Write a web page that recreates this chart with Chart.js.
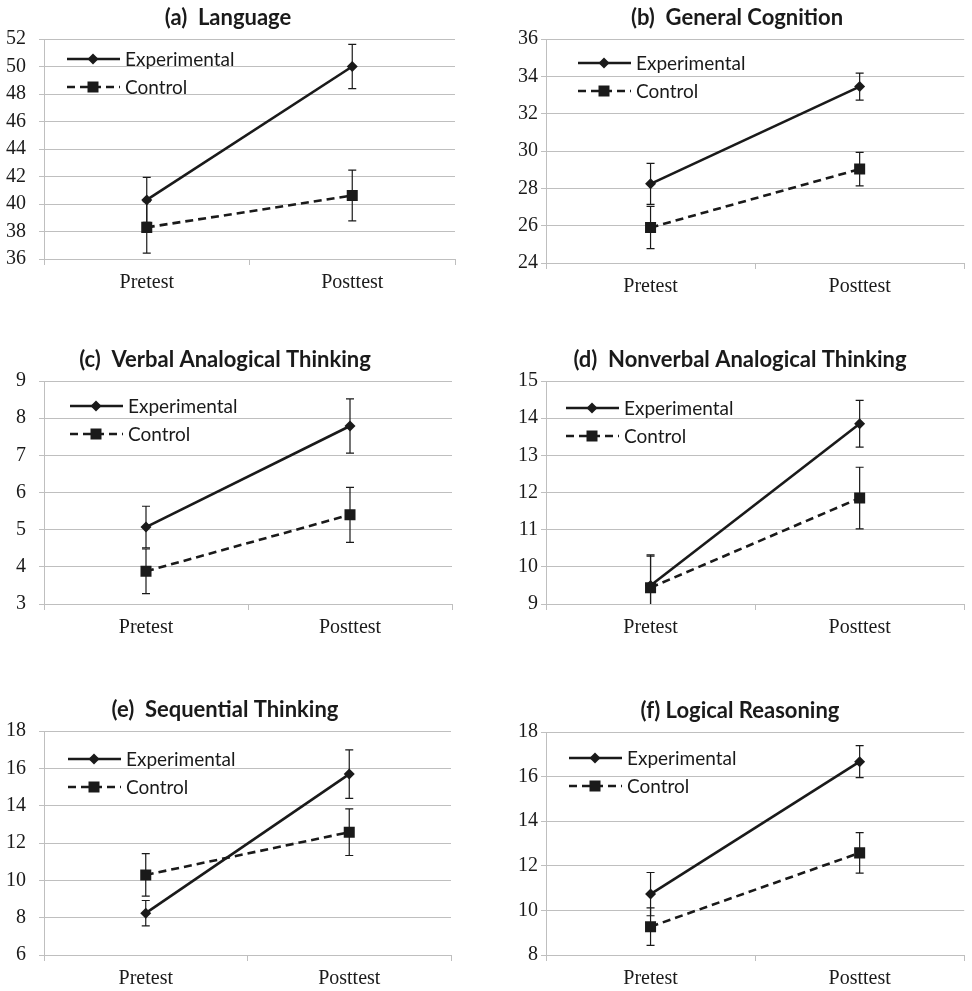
<!DOCTYPE html>
<html>
<head>
<meta charset="utf-8">
<script src="https://cdn.jsdelivr.net/npm/chart.js@4"></script>
<style>
  body { margin: 0; background: #fff; }
  #wrap { position: relative; width: 972px; height: 991px; }
  #wrap canvas { position: absolute; }
</style>
</head>
<body>
<div id="wrap"></div>
<script>
// data
const categories = ["Pretest", "Posttest"];
const panelTitles = ["(a)  Language", "(b)  General Cognition", "(c)  Verbal Analogical Thinking",
  "(d)  Nonverbal Analogical Thinking", "(e)  Sequential Thinking", "(f) Logical Reasoning"];
const experimentalMeans = [[40.3, 50.0], [28.24, 33.45], [5.07, 7.79], [9.5, 13.85], [8.24, 15.69], [10.73, 16.67]];
const experimentalErrors = [[1.64, 1.61], [1.1, 0.72], [0.56, 0.73], [0.82, 0.63], [0.68, 1.3], [0.97, 0.72]];
const controlMeans = [[38.3, 40.62], [25.9, 29.03], [3.88, 5.4], [9.44, 11.85], [10.29, 12.58], [9.27, 12.58]];
const controlErrors = [[1.87, 1.85], [1.13, 0.9], [0.6, 0.74], [0.85, 0.83], [1.14, 1.25], [0.84, 0.91]];
const yMin = [36, 24, 3, 9, 6, 8];
const yMax = [52, 36, 9, 15, 18, 18];
const yStep = [2, 2, 1, 1, 2, 2];

// layout of each panel (canvas left/top, plot height, right padding, title x, legend offset)
const layout = [
  { left: 0, top: 0, h: 220, padR: 31, axisW: 44, tickPad: 13, titleX: 228, lx: 23, ly: 20 },
  { left: 486, top: 0, h: 224, padR: 1, axisW: 60, tickPad: 3, titleX: 251, lx: 32, ly: 24 },
  { left: 0, top: 342, h: 223, padR: 34, axisW: 44, tickPad: 13, titleX: 225, lx: 26, ly: 25 },
  { left: 486, top: 342, h: 223, padR: 1, axisW: 60, tickPad: 3, titleX: 254, lx: 20, ly: 27 },
  { left: 0, top: 692, h: 224, padR: 35, axisW: 44, tickPad: 13, titleX: 225, lx: 24, ly: 28 },
  { left: 486, top: 693, h: 223, padR: 1, axisW: 60, tickPad: 3, titleX: 254, lx: 23, ly: 26 }
];

const ink = "#1a1a1a";
const gridColor = "#bfbfbf";

function drawMarker(ctx, style, x, y) {
  ctx.fillStyle = ink;
  ctx.beginPath();
  if (style === "rectRot") {
    ctx.moveTo(x, y - 5.5); ctx.lineTo(x + 5.5, y); ctx.lineTo(x, y + 5.5); ctx.lineTo(x - 5.5, y);
    ctx.closePath();
  } else {
    ctx.rect(x - 5.5, y - 5.5, 11, 11);
  }
  ctx.fill();
}

// error bars, clipped to the plot
const errorBars = {
  id: "errorBars",
  beforeDatasetsDraw(chart) {
    const ctx = chart.ctx, a = chart.chartArea, ys = chart.scales.y;
    ctx.save();
    ctx.beginPath();
    ctx.rect(a.left, a.top, a.right - a.left, a.bottom - a.top);
    ctx.clip();
    ctx.strokeStyle = ink;
    ctx.lineWidth = 1.2;
    chart.data.datasets.forEach((ds, i) => {
      chart.getDatasetMeta(i).data.forEach((pt, j) => {
        const hi = ys.getPixelForValue(ds.data[j] + ds.errors[j]);
        const lo = ys.getPixelForValue(ds.data[j] - ds.errors[j]);
        ctx.beginPath();
        ctx.moveTo(pt.x, hi); ctx.lineTo(pt.x, lo);
        ctx.moveTo(pt.x - 4, hi); ctx.lineTo(pt.x + 4, hi);
        ctx.moveTo(pt.x - 4, lo); ctx.lineTo(pt.x + 4, lo);
        ctx.stroke();
      });
    });
    ctx.restore();
  }
};

// title and inside legend
const decorations = {
  id: "decorations",
  afterDraw(chart, args, opts) {
    const ctx = chart.ctx, a = chart.chartArea;
    ctx.save();
    ctx.fillStyle = ink;
    ctx.font = "bold 22px Lato";
    ctx.textAlign = "center";
    ctx.textBaseline = "middle";
    ctx.fillText(opts.title, opts.titleX, a.top - 21);

    ctx.font = "19px Lato";
    ctx.textAlign = "left";
    chart.data.datasets.forEach((ds, i) => {
      const x0 = a.left + opts.lx, y = a.top + opts.ly + i * 28;
      ctx.strokeStyle = ink;
      ctx.lineWidth = 2.6;
      ctx.setLineDash(ds.borderDash || []);
      ctx.beginPath();
      ctx.moveTo(x0, y); ctx.lineTo(x0 + 53, y);
      ctx.stroke();
      ctx.setLineDash([]);
      drawMarker(ctx, ds.pointStyle, x0 + 26, y);
      ctx.fillStyle = ink;
      ctx.fillText(ds.label, x0 + 58, y + 1);
    });
    ctx.restore();
  }
};

layout.forEach((p, k) => {
  const canvas = document.createElement("canvas");
  canvas.width = 486;
  canvas.height = 39 + p.h + 45;
  canvas.style.left = p.left + "px";
  canvas.style.top = p.top + "px";
  document.getElementById("wrap").appendChild(canvas);

  new Chart(canvas, {
    type: "line",
    data: {
      labels: categories,
      datasets: [{
        label: "Experimental",
        data: experimentalMeans[k],
        errors: experimentalErrors[k],
        borderColor: ink,
        backgroundColor: ink,
        borderWidth: 2.6,
        pointStyle: "rectRot",
        pointRadius: 5.5,
        pointBorderWidth: 0
      }, {
        label: "Control",
        data: controlMeans[k],
        errors: controlErrors[k],
        borderColor: ink,
        backgroundColor: ink,
        borderWidth: 2.6,
        borderDash: [8, 5],
        pointStyle: "rect",
        pointRadius: 7.8,
        pointBorderWidth: 0
      }]
    },
    options: {
      responsive: false,
      animation: false,
      layout: { padding: { top: 39, right: p.padR, bottom: 0, left: 0 } },
      plugins: {
        legend: { display: false },
        tooltip: { enabled: false },
        decorations: { title: panelTitles[k], titleX: p.titleX, lx: p.lx, ly: p.ly }
      },
      scales: {
        x: {
          offset: true,
          grid: { offset: true, drawOnChartArea: false, drawTicks: true, tickLength: 6, color: gridColor },
          border: { color: gridColor },
          ticks: { color: ink, padding: 6, font: { family: "Liberation Serif", size: 20 } },
          afterFit: s => { s.height = 45; }
        },
        y: {
          min: yMin[k],
          max: yMax[k],
          ticks: { stepSize: yStep[k], color: ink, padding: p.tickPad, font: { family: "Liberation Serif", size: 20 } },
          grid: { color: gridColor, tickLength: 5 },
          border: { color: gridColor },
          afterFit: s => { s.width = p.axisW; }
        }
      }
    },
    plugins: [errorBars, decorations]
  });
});
</script>
</body>
</html>
